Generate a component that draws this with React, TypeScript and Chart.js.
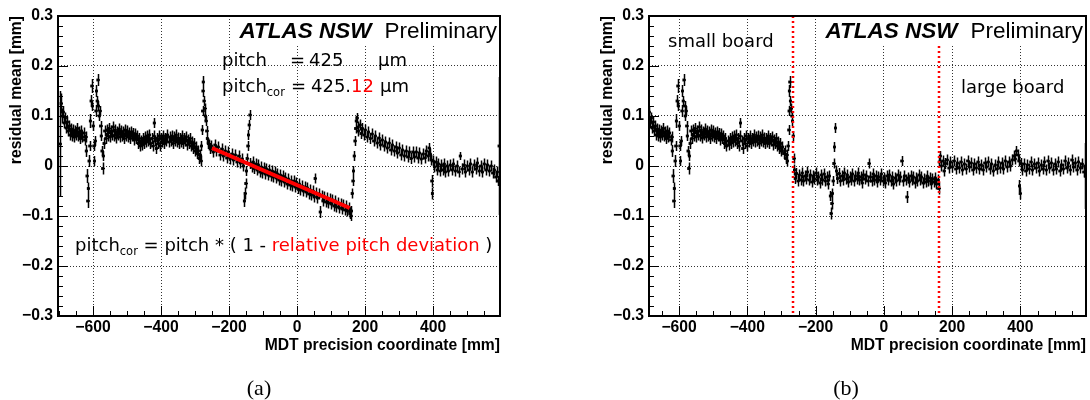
import { useEffect, useRef } from "react";
import { Chart, registerables } from "chart.js";

Chart.register(...registerables);

// rows: [x (mm), residual mean (µm), error (µm, optional)]
const smallBoard: number[][] = [
  [-697, 44, 106], [-694, 125, 20], [-691, 100, 15], [-688, 108, 12], [-685, 86], [-682, 96], [-679, 76], [-676, 88],
  [-673, 70], [-670, 80], [-667, 62], [-664, 74], [-661, 60], [-658, 72], [-655, 58], [-652, 70], [-649, 62], [-646, 75],
  [-643, 60], [-640, 68], [-637, 55], [-634, 70], [-631, 58], [-628, 66], [-625, 52], [-622, 58],
  [-620, 30, 12], [-618, -20, 14], [-616, -70, 14], [-614, -45, 12], [-612, 10, 12], [-610, 40, 10], [-608, 90, 14],
  [-606, 130, 12], [-604, 160, 14], [-602, 120, 10], [-600, 80, 10], [-598, 40, 10], [-596, 10, 10], [-594, 50, 10],
  [-592, 110, 12], [-590, 150, 12], [-588, 130, 10], [-586, 172, 12], [-584, 120, 10], [-582, 100, 10], [-580, 110, 10],
  [-578, 80, 10], [-576, 60, 10], [-574, 30, 10], [-572, -5, 12], [-570, 20, 10], [-568, 45], [-566, 70], [-563, 55], [-560, 72],
  [-557, 60], [-554, 75], [-551, 58], [-548, 70], [-545, 62], [-542, 78], [-539, 60], [-536, 72], [-533, 56], [-530, 68],
  [-527, 62], [-524, 74], [-521, 58], [-518, 70], [-515, 60], [-512, 68], [-509, 55], [-506, 72], [-503, 60], [-500, 70],
  [-497, 58], [-494, 66], [-491, 55], [-488, 68], [-485, 60], [-482, 65], [-479, 52], [-476, 64], [-473, 55], [-470, 60],
  [-467, 45], [-464, 55], [-461, 40], [-458, 50], [-455, 42], [-452, 55], [-449, 45], [-446, 58], [-443, 48], [-440, 60],
  [-437, 50], [-434, 62], [-431, 45], [-428, 55], [-425, 40], [-422, 60], [-420, 86, 10], [-417, 50], [-414, 35], [-411, 55],
  [-408, 45], [-405, 60], [-402, 40], [-399, 55], [-396, 48], [-393, 60], [-390, 45], [-387, 55], [-384, 50], [-381, 62],
  [-378, 48], [-375, 58], [-372, 50], [-369, 60], [-366, 45], [-363, 58], [-360, 50], [-357, 62], [-354, 48], [-351, 56],
  [-348, 45], [-345, 55], [-342, 48], [-339, 60], [-336, 45], [-333, 55], [-330, 50], [-327, 58], [-324, 42], [-321, 52],
  [-318, 45], [-315, 55], [-312, 40], [-309, 48], [-306, 35], [-303, 45], [-300, 30], [-297, 38], [-294, 25], [-291, 30],
  [-288, 15], [-285, 22], [-283, 10], [-281, 40, 10], [-279, 72, 10], [-278, 110, 10], [-277, 150, 12], [-276, 168, 12],
  [-274, 130, 10], [-272, 115, 10], [-270, 100, 10], [-268, 90, 10],
];

// large board, before the pitch correction (panel a)
const largeBoardBefore: number[][] = [
  [-266, 70, 10], [-264, 55], [-261, 45], [-258, 42], [-255, 35], [-252, 40], [-247, 28], [-242, 42], [-237, 30], [-232, 38],
  [-227, 22], [-222, 34], [-217, 20], [-212, 30], [-207, 16], [-202, 28], [-197, 14], [-192, 24], [-187, 12], [-182, 22],
  [-177, 8], [-172, 20], [-167, 6], [-162, 14], [-158, 0], [-155, -70, 12], [-153, -55, 12], [-151, -35, 10], [-149, -10, 10],
  [-147, 15, 10], [-145, 40, 10], [-143, 62, 10], [-141, 82, 10], [-139, 102, 10], [-137, 5], [-133, -2], [-130, 8], [-126, -5],
  [-122, 4], [-118, -8], [-114, 2], [-110, -12], [-106, -2], [-102, -14], [-98, -4], [-94, -16], [-90, -6], [-86, -18],
  [-82, -8], [-78, -20], [-74, -10], [-70, -22], [-66, -12], [-62, -24], [-58, -16], [-54, -28], [-50, -18], [-46, -30],
  [-42, -20], [-38, -32], [-34, -24], [-30, -36], [-26, -26], [-22, -38], [-18, -30], [-14, -40], [-10, -30], [-6, -42],
  [-2, -34], [2, -45], [6, -36], [10, -48], [14, -40], [18, -50], [22, -42], [26, -52], [30, -44], [34, -56], [38, -48],
  [42, -58], [46, -50], [50, -62], [53, -25, 10], [56, -54], [60, -64], [64, -56], [68, -92, 12], [72, -60], [76, -70],
  [80, -62], [84, -72], [88, -64], [92, -74], [96, -66], [100, -76], [104, -68], [108, -80], [112, -70], [116, -82],
  [120, -74], [124, -84], [128, -76], [132, -86], [136, -78], [140, -88], [144, -80], [148, -90], [152, -84], [155, -95],
  [158, -100, 10], [160, -90, 10], [162, -55, 10], [164, -30, 10], [166, -10, 10], [168, 20, 10], [170, 50, 10], [172, 75, 10],
  [174, 90, 10], [176, 96, 10], [178, 78], [180, 70], [184, 82], [188, 65], [192, 75], [196, 62], [200, 72], [205, 58],
  [210, 68], [215, 55], [220, 64], [225, 50], [230, 60], [235, 46], [240, 56], [245, 42], [250, 52], [255, 40], [260, 48],
  [265, 36], [270, 46], [275, 32], [280, 42], [285, 30], [290, 38], [295, 26], [300, 36], [305, 22], [310, 32], [315, 20],
  [320, 30], [325, 18], [330, 28], [335, 15], [340, 28], [345, 18], [350, 28], [355, 16], [360, 26], [365, 14], [370, 24],
  [375, 16], [380, 30], [385, 20], [388, 36, 10], [391, 24], [394, 12], [396, -30, 12], [398, -55, 12], [400, 10],
  [404, -2], [408, 8], [412, -8], [416, 4], [420, -10], [424, 2], [428, -8], [432, 4], [436, -12], [440, 0], [445, -10],
  [450, 2], [455, -8], [460, 4], [465, -10], [470, 0], [475, -12], [480, 20, 8], [485, -6], [490, 2], [495, -12], [500, 0],
  [505, -8], [510, 4], [515, -12], [520, 2], [525, -6], [530, 6], [535, -10], [540, 0], [545, -12], [550, 4], [555, -8],
  [560, 2], [565, -10], [570, 0], [575, -14], [580, -8], [584, -22], [588, -12], [591, -30, 10], [594, 40, 138],
];

// large board, after the pitch correction (panel b)
const largeBoardAfter: number[][] = [
  [-266, 60, 10], [-264, 15, 10], [-262, -8], [-260, -25], [-256, -15], [-252, -30], [-248, -18], [-244, -28], [-240, -14],
  [-236, -30], [-232, -20], [-228, -26], [-224, -12], [-220, -28], [-216, -18], [-212, -32], [-208, -20], [-204, -26],
  [-200, -14], [-196, -28], [-192, -22], [-188, -34], [-184, -18], [-180, -28], [-176, -16], [-172, -30], [-168, -22],
  [-164, -36], [-160, -20], [-157, -60, 10], [-155, -95, 12], [-153, -75, 12], [-151, -55, 10], [-149, -30, 10], [-147, 5, 10],
  [-145, 38, 10], [-142, 76, 10], [-139, -10], [-136, -25], [-132, -15], [-128, -30], [-124, -20], [-120, -28], [-116, -14],
  [-112, -26], [-108, -18], [-104, -32], [-100, -22], [-96, -28], [-92, -16], [-88, -30], [-84, -20], [-80, -26], [-76, -14],
  [-72, -28], [-68, -22], [-64, -34], [-60, -18], [-56, -26], [-52, -20], [-48, -30], [-44, 5, 10], [-40, -22], [-36, -30],
  [-32, -16], [-28, -28], [-24, -20], [-20, -32], [-16, -22], [-12, -28], [-8, -16], [-4, -30], [0, -24], [4, -34], [8, -20],
  [12, -28], [16, -18], [20, -30], [24, -22], [28, -36], [32, -24], [36, -30], [40, -18], [44, -28], [48, -22], [52, 10, 10],
  [56, -30], [60, -20], [64, -28], [67, -62, 12], [70, -24], [74, -32], [78, -20], [82, -28], [86, -22], [90, -34], [94, -24],
  [98, -30], [102, -18], [106, -28], [110, -22], [114, -34], [118, -26], [122, -32], [126, -20], [130, -30], [134, -24],
  [138, -36], [142, -26], [146, -32], [150, -24], [154, -36], [158, -28], [160, -45, 12], [162, 8, 10], [165, 20, 10],
  [168, 0], [172, 10], [176, -10], [180, 5], [185, 12], [190, -4], [195, 8], [200, -2], [205, 10], [210, -6], [215, 6],
  [220, -4], [225, 8], [230, -8], [235, 4], [240, -6], [245, 10], [250, -2], [255, 6], [260, -8], [265, 4], [270, -4],
  [275, 8], [280, -6], [285, 2], [290, -8], [295, 6], [300, -2], [305, 8], [310, -6], [315, 4], [320, -10], [325, 2],
  [330, -6], [335, 8], [340, -4], [345, 6], [350, -6], [355, 10], [360, -2], [365, 8], [370, 0], [375, 12], [380, 20],
  [384, 14], [388, 30, 10], [392, 22], [395, 10], [397, -40, 12], [399, -55, 12], [401, 5], [405, -8], [410, 4], [415, -10],
  [420, 2], [425, -6], [430, 8], [435, -8], [440, 4], [445, -4], [450, 6], [455, -10], [460, 2], [465, -6], [470, 8],
  [475, -8], [480, 10], [485, -4], [490, 6], [495, -8], [500, 4], [505, -6], [510, 8], [515, -10], [520, 2], [525, -6],
  [530, 10], [535, -4], [540, 6], [545, -8], [550, 12], [555, -2], [560, 6], [565, -8], [570, 8], [575, -4], [580, 4],
  [585, -12], [588, 0], [590, -20, 66],
];

const fitLineX = [-250, 155];
const fitLineY = [0.036, -0.084];
const boardEdges = [-265, 161];
const xTickValues = [-600, -400, -200, 0, 200, 400];
const yTickValues = [-0.3, -0.2, -0.1, 0, 0.1, 0.2, 0.3];
const xRangeA = [-703, 597];
const xRangeB = [-688, 592];
const yRange = [-0.3, 0.3];
const DEFAULT_ERR = 11;

const SANS = "'Liberation Sans', Arial, Helvetica, sans-serif";
const DEJAVU = "'DejaVu Sans', Verdana, sans-serif";
const SERIF = "'Liberation Serif', 'Times New Roman', serif";

function toPoints(rows: number[][]) {
  return rows.map((r) => ({ x: r[0], y: r[1] / 1000, e: (r.length > 2 ? r[2] : DEFAULT_ERR) / 1000 }));
}

function fmtY(v: number) {
  const r = Math.round(v * 10) / 10;
  if (r === 0) return "0";
  return (r < 0 ? "\u2212" : "") + Math.abs(r).toFixed(1);
}
function fmtX(v: number) {
  return v < 0 ? "\u2212" + Math.abs(v) : String(v);
}

const errorBarPlugin = {
  id: "errorBars",
  afterDatasetDraw(chart: any, args: any) {
    const ds = chart.data.datasets[args.index];
    if (!ds.errorBars) return;
    const { ctx, chartArea: ca } = chart;
    const ys = chart.scales.y;
    ctx.save();
    ctx.beginPath();
    ctx.rect(ca.left, ca.top, ca.right - ca.left, ca.bottom - ca.top);
    ctx.clip();
    ctx.strokeStyle = "#000";
    ctx.lineWidth = 1.5;
    ctx.beginPath();
    args.meta.data.forEach((el: any, i: number) => {
      const p = ds.data[i];
      const x = Math.round(el.x) + 0.5;
      const yc = el.y;
      ctx.moveTo(x, ys.getPixelForValue(p.y + p.e));
      ctx.lineTo(x, ys.getPixelForValue(p.y - p.e));
      ctx.moveTo(x - 1.5, yc);
      ctx.lineTo(x + 1.5, yc);
    });
    ctx.stroke();
    ctx.restore();
  },
};

function drawSeq(ctx: CanvasRenderingContext2D, parts: { t: string; font: string; color?: string; dy?: number }[], x: number, y: number) {
  let cx = x;
  for (const p of parts) {
    ctx.font = p.font;
    ctx.fillStyle = p.color || "#000";
    ctx.fillText(p.t, cx, y + (p.dy || 0));
    cx += ctx.measureText(p.t).width;
  }
}

function makeDecor(kind: "a" | "b") {
  return {
    id: "decor",
    afterDatasetsDraw(chart: any) {
      if (kind !== "b") return;
      const { ctx, chartArea: ca, scales } = chart;
      ctx.save();
      ctx.strokeStyle = "#ff0000";
      ctx.lineWidth = 2.5;
      ctx.setLineDash([2, 3]);
      boardEdges.forEach((v) => {
        const px = Math.round(scales.x.getPixelForValue(v));
        ctx.beginPath();
        ctx.moveTo(px, ca.top);
        ctx.lineTo(px, ca.bottom);
        ctx.stroke();
      });
      ctx.restore();
    },
    afterDraw(chart: any) {
      const { ctx, chartArea: ca, scales } = chart;
      const x = scales.x;
      const y = scales.y;
      ctx.save();
      const boxLeft = kind === "a" ? 232 : 277;
      ctx.fillStyle = "#fff";
      ctx.fillRect(boxLeft, ca.top, ca.right - boxLeft, 30);
      // frame
      ctx.strokeStyle = "#000";
      ctx.lineWidth = 2;
      ctx.strokeRect(ca.left, ca.top, ca.right - ca.left, ca.bottom - ca.top);
      // inward ticks
      ctx.lineWidth = 1;
      ctx.beginPath();
      for (let v = Math.ceil(x.min / 50) * 50; v <= x.max; v += 50) {
        const px = Math.round(x.getPixelForValue(v)) + 0.5;
        const len = v % 200 === 0 ? 10 : 5;
        ctx.moveTo(px, ca.bottom);
        ctx.lineTo(px, ca.bottom - len);
      }
      for (let i = -15; i <= 15; i++) {
        const py = Math.round(y.getPixelForValue(i * 0.02)) + 0.5;
        const len = i % 5 === 0 ? 10 : 5;
        ctx.moveTo(ca.left, py);
        ctx.lineTo(ca.left + len, py);
      }
      ctx.stroke();

      // ATLAS label
      ctx.textBaseline = "alphabetic";
      ctx.textAlign = "right";
      ctx.fillStyle = "#000";
      ctx.font = `22.5px ${SANS}`;
      const rx = ca.right - 3;
      ctx.fillText("Preliminary", rx, 38);
      const pw = ctx.measureText("Preliminary").width;
      ctx.font = `italic bold 22.5px ${SANS}`;
      ctx.fillText("ATLAS NSW", rx - pw - 13, 38);

      ctx.textAlign = "left";
      const f = `18px ${DEJAVU}`;
      const fs = `11.5px ${DEJAVU}`;
      if (kind === "a") {
        drawSeq(ctx, [{ t: "pitch", font: f }], 222, 66);
        drawSeq(ctx, [{ t: "=", font: f }], 290, 66);
        drawSeq(ctx, [{ t: "425", font: f }], 309, 66);
        drawSeq(ctx, [{ t: "\u00b5m", font: f }], 378, 66);
        drawSeq(ctx, [{ t: "pitch", font: f }, { t: "cor", font: fs, dy: 4 }], 222, 92);
        drawSeq(ctx, [{ t: "=", font: f }], 291, 92);
        drawSeq(ctx, [{ t: "425.", font: f }, { t: "12", font: f, color: "#ff0000" }], 311, 92);
        drawSeq(ctx, [{ t: "\u00b5m", font: f }], 380, 92);
        drawSeq(
          ctx,
          [
            { t: "pitch", font: f },
            { t: "cor", font: fs, dy: 4 },
            { t: " = pitch * ( 1 - ", font: f },
            { t: "relative pitch deviation", font: f, color: "#ff0000" },
            { t: " )", font: f },
          ],
          75,
          251
        );
      } else {
        drawSeq(ctx, [{ t: "small board", font: f }], 123, 47);
        drawSeq(ctx, [{ t: "large board", font: f }], 416, 93);
      }
      ctx.textAlign = "center";
      ctx.fillStyle = "#000";
      ctx.font = `22px ${SERIF}`;
      ctx.fillText(kind === "a" ? "(a)" : "(b)", kind === "a" ? 259 : 301, 395);
      ctx.restore();
    },
  };
}

function buildChart(canvas: HTMLCanvasElement, kind: "a" | "b") {
  const range = kind === "a" ? xRangeA : xRangeB;
  const padLeft = kind === "a" ? 0 : 46;
  const padRight = kind === "a" ? 45 : 2;
  const points = toPoints(smallBoard.concat(kind === "a" ? largeBoardBefore : largeBoardAfter));
  const datasets: any[] = [
    {
      data: points,
      errorBars: true,
      pointStyle: "rect",
      pointRadius: 2,
      backgroundColor: "#000",
      borderColor: "#000",
      borderWidth: 0,
      showLine: false,
      clip: 0,
      order: 1,
    },
  ];
  if (kind === "a") {
    datasets.push({
      data: fitLineX.map((xv, i) => ({ x: xv, y: fitLineY[i] })),
      showLine: true,
      borderColor: "#ff0000",
      borderWidth: 4,
      pointRadius: 0,
      order: 0,
    });
  }
  const tickFont = { family: SANS, weight: "bold" as const, size: 15.7, lineHeight: 1 };
  const titleFont = { family: SANS, weight: "bold" as const, size: 15.7, lineHeight: 1 };
  return new Chart(canvas, {
    type: "scatter",
    data: { datasets },
    options: {
      animation: false,
      responsive: false,
      devicePixelRatio: 1,
      layout: { padding: { left: padLeft, right: padRight, top: 16, bottom: 0 } },
      plugins: { legend: { display: false }, tooltip: { enabled: false } },
      scales: {
        x: {
          type: "linear",
          position: "bottom",
          min: range[0],
          max: range[1],
          afterBuildTicks: (s: any) => {
            s.ticks = xTickValues.map((v) => ({ value: v }));
          },
          afterFit: (s: any) => {
            s.height = 84;
          },
          ticks: { callback: (v: any) => fmtX(Number(v)), font: tickFont, color: "#000", padding: 4, maxRotation: 0, autoSkip: false },
          grid: { color: "rgba(0,0,0,0.8)", lineWidth: 1, drawTicks: false },
          border: { display: false, dash: [1, 2] },
          title: { display: true, text: "MDT precision coordinate [mm]", align: "end", color: "#000", font: titleFont, padding: { top: 0, bottom: 46 } },
        },
        y: {
          type: "linear",
          position: "left",
          min: yRange[0],
          max: yRange[1],
          afterBuildTicks: (s: any) => {
            s.ticks = yTickValues.map((v) => ({ value: v }));
          },
          afterFit: (s: any) => {
            s.width = 58;
          },
          ticks: { callback: (v: any) => fmtY(Number(v)), font: tickFont, color: "#000", padding: 5, autoSkip: false },
          grid: { color: "rgba(0,0,0,0.8)", lineWidth: 1, drawTicks: false },
          border: { display: false, dash: [1, 2] },
          title: { display: true, text: "residual mean [mm]", align: "end", color: "#000", font: titleFont, padding: { top: 9, bottom: 0 } },
        },
      },
    } as any,
    plugins: [errorBarPlugin, makeDecor(kind)],
  });
}

export default function App() {
  const refA = useRef<HTMLCanvasElement>(null);
  const refB = useRef<HTMLCanvasElement>(null);
  useEffect(() => {
    const a = buildChart(refA.current!, "a");
    const b = buildChart(refB.current!, "b");
    return () => {
      a.destroy();
      b.destroy();
    };
  }, []);
  return (
    <div style={{ position: "fixed", left: 0, top: 0, width: 1090, height: 400, background: "#fff" }}>
      <canvas ref={refA} width={545} height={400} style={{ position: "absolute", left: 0, top: 0, width: 545, height: 400 }} />
      <canvas ref={refB} width={545} height={400} style={{ position: "absolute", left: 545, top: 0, width: 545, height: 400 }} />
    </div>
  );
}
